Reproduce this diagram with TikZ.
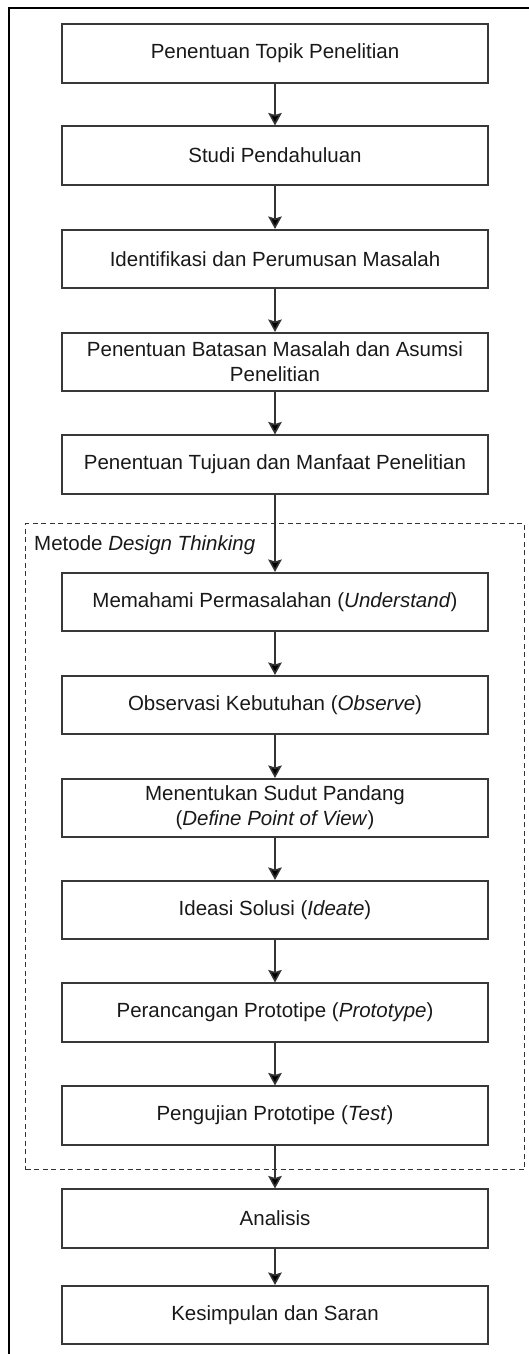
\documentclass[tikz,border=0pt]{standalone}
\usepackage{fontspec}
\setmainfont{Liberation Sans}
\usetikzlibrary{arrows.meta}
\begin{document}
\begin{tikzpicture}[x=1pt,y=-1pt,
  stepbox/.style={draw=black!78,line width=1.6pt,minimum width=426pt,minimum height=58.5pt,inner sep=0pt,align=center,font=\fontsize{20.5}{25}\selectfont,text=black!90},
  flow/.style={draw=black!80,line width=1.6pt,-{Stealth[length=12.5pt,width=13.5pt,inset=2pt,fill=black]}},
  groupbox/.style={draw=black!80,line width=1.4pt,dash pattern=on 5pt off 3.5pt,inner sep=0pt,minimum width=499pt,minimum height=646pt,anchor=north west},
  grouplabel/.style={anchor=west,inner sep=0pt,font=\fontsize{20.5}{25}\selectfont,text=black!90}]
\useasboundingbox (0,0) rectangle (529,1354);
\begin{scope}
  \clip (0,0) rectangle (529,1354);
  \draw[line width=2pt] (9,8) rectangle (570,1390);
\end{scope}
\node[groupbox] (dt) at (25,523) {};
\node[grouplabel] (dtl) at (34,545) {Metode \textit{Design Thinking}};
\node[stepbox] (b1) at (275,53.5) {Penentuan Topik Penelitian};
\node[stepbox] (b2) at (275,155.5) {Studi Pendahuluan};
\node[stepbox] (b3) at (275,259) {Identifikasi dan Perumusan Masalah};
\node[stepbox] (b4) at (275,362) {Penentuan Batasan Masalah dan Asumsi\\Penelitian};
\node[stepbox] (b5) at (275,464.5) {Penentuan Tujuan dan Manfaat Penelitian};
\node[stepbox] (b6) at (275,602) {Memahami Permasalahan (\textit{Understand})};
\node[stepbox] (b7) at (275,705) {Observasi Kebutuhan (\textit{Observe})};
\node[stepbox] (b8) at (275,808) {Menentukan Sudut Pandang\\(\textit{Define Point of View})};
\node[stepbox] (b9) at (275,910) {Ideasi Solusi (\textit{Ideate})};
\node[stepbox] (b10) at (275,1012.5) {Perancangan Prototipe (\textit{Prototype})};
\node[stepbox] (b11) at (275,1115.5) {Pengujian Prototipe (\textit{Test})};
\node[stepbox] (b12) at (275,1218.5) {Analisis};
\node[stepbox] (b13) at (275,1315) {Kesimpulan dan Saran};
\foreach \a/\b in {b1/b2,b2/b3,b3/b4,b4/b5,b5/b6,b6/b7,b7/b8,b8/b9,b9/b10,b10/b11,b11/b12,b12/b13}
  \draw[flow] (\a) -- (\b);
\end{tikzpicture}
\end{document}
